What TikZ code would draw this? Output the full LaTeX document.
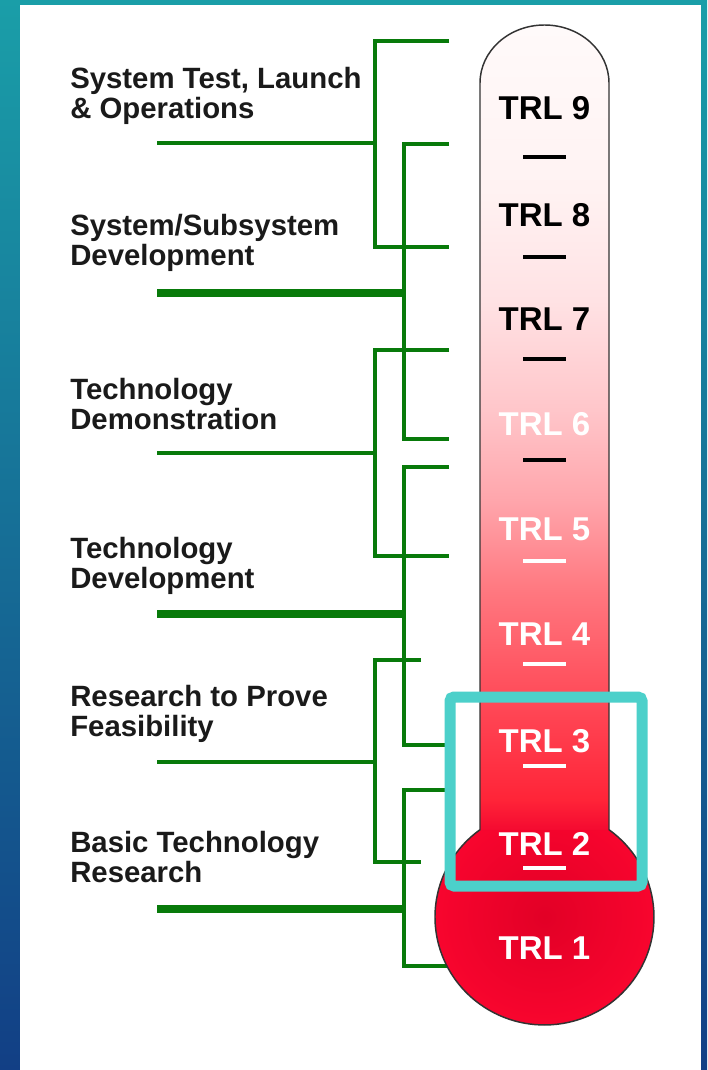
\documentclass[tikz,border=0pt]{standalone}
\usepackage{fontspec}
\setmainfont{Liberation Sans}

\definecolor{bgteal}{HTML}{1A9EA8}
\definecolor{bgnavy}{HTML}{123F85}
\definecolor{bracketgreen}{HTML}{087A0A}
\definecolor{boxteal}{HTML}{4CD0CA}
\definecolor{bulbred}{HTML}{F8052E}
\definecolor{bulbcore}{HTML}{E20026}
\definecolor{labelgray}{HTML}{1A1A1A}
\definecolor{tubeA}{HTML}{F40A30}
\definecolor{tubeB}{HTML}{FF2438}
\definecolor{tubeC}{HTML}{FF4A58}
\definecolor{tubeD}{HTML}{FF7880}
\definecolor{tubeE}{HTML}{FFA6AC}
\definecolor{tubeF}{HTML}{FFC6CA}
\definecolor{tubeG}{HTML}{FFE2E4}
\definecolor{tubeH}{HTML}{FFF2F2}
\definecolor{tubeI}{HTML}{FFFAFA}

\pgfdeclareverticalshading{tubeshade}{100bp}{color(0bp)=(tubeA); color(25bp)=(tubeA);
  color(26.9bp)=(tubeB); color(33.1bp)=(tubeC); color(39.9bp)=(tubeD);
  color(45.5bp)=(tubeE); color(51.1bp)=(tubeF); color(57.9bp)=(tubeG);
  color(64.75bp)=(tubeH); color(75bp)=(tubeI); color(100bp)=(tubeI)}

\begin{document}
\begin{tikzpicture}[x=0.75pt,y=0.75pt,
    stage node/.style={anchor=base west,inner sep=0pt,align=left,text=labelgray,font=\fontsize{22}{22.5}\selectfont\bfseries},
    trl node/.style={anchor=base,inner sep=0pt,text=black,font=\fontsize{24.75}{26}\selectfont\bfseries},
    light trl/.style={trl node,text=white},
    bracket/.style={draw=bracketgreen,line width=3.4pt},
    heavy bracket/.style={bracket,line width=5.6pt},
    tick/.style={draw=black,line width=3pt},
    light tick/.style={tick,draw=white},
    glass/.style={draw=black!80,line width=1.1pt}]
    \useasboundingbox (0,0) rectangle (707,-1070);
    % backdrop
    \shade[top color=bgteal,bottom color=bgnavy] (0,0) rectangle (707,-1070);
    \fill[white] (20,-5) rectangle (701,-1070);

    % stage labels (base = last line)
    \node[stage node] (stage1) at (70,-119) {System Test, Launch\\\& Operations};
    \node[stage node] (stage2) at (70,-265) {System/Subsystem\\Development};
    \node[stage node] (stage3) at (70,-429) {Technology\\Demonstration};
    \node[stage node] (stage4) at (70,-588) {Technology\\Development};
    \node[stage node] (stage5) at (70,-736) {Research to Prove\\Feasibility};
    \node[stage node] (stage6) at (70,-882) {Basic Technology\\Research};

    % bracket ends
    \coordinate (s1) at (157,-143); \coordinate (k1) at (375,-143);
    \coordinate (u1) at (449,-41);  \coordinate (d1) at (449,-247);
    \coordinate (s2) at (157,-293); \coordinate (k2) at (404,-293);
    \coordinate (u2) at (449,-144); \coordinate (d2) at (449,-439);
    \coordinate (s3) at (157,-453); \coordinate (k3) at (375,-453);
    \coordinate (u3) at (449,-350); \coordinate (d3) at (449,-556);
    \coordinate (s4) at (157,-614); \coordinate (k4) at (404,-614);
    \coordinate (u4) at (449,-467); \coordinate (d4) at (449,-745);
    \coordinate (s5) at (157,-762); \coordinate (k5) at (375,-762);
    \coordinate (u5) at (421,-660); \coordinate (d5) at (421,-862);
    \coordinate (s6) at (157,-909); \coordinate (k6) at (404,-909);
    \coordinate (u6) at (449,-790); \coordinate (d6) at (449,-966);

    \path[bracket]
        (u1) -| (k1) |- (d1)
        (u2) -| (k2) |- (d2)
        (u3) -| (k3) |- (d3)
        (u4) -| (k4) |- (d4)
        (u5) -| (k5) |- (d5)
        (u6) -| (k6) |- (d6)
        (s1) -- (k1)
        (s3) -- (k3)
        (s5) -- (k5);
    \path[heavy bracket]
        (s2) -- (k2)
        (s4) -- (k4)
        (s6) -- (k6);

    % thermometer
    \shade[shading=radial,inner color=bulbcore,outer color=bulbred] (544.5,-917) ellipse (109.5 and 108);
    \shade[shading=tubeshade] (480,-830) -- (480,-83) arc (180:0:64.5 and 58) -- (609,-830) -- cycle;
    \draw[glass] (480,-829.7) -- (480,-83) arc (180:0:64.5 and 58) -- (609,-829.7)
        arc (53.9:-233.9:109.5 and 108) -- cycle;

    \node[trl node] (trl9) at (544.5,-120) {TRL 9};
    \node[trl node] (trl8) at (544.5,-226) {TRL 8};
    \node[trl node] (trl7) at (544.5,-330) {TRL 7};
    \node[light trl] (trl6) at (544.5,-435) {TRL 6};
    \node[light trl] (trl5) at (544.5,-540) {TRL 5};
    \node[light trl] (trl4) at (544.5,-645) {TRL 4};
    \node[light trl] (trl3) at (544.5,-752) {TRL 3};
    \node[light trl] (trl2) at (544.5,-855) {TRL 2};
    \node[light trl] (trl1) at (544.5,-959) {TRL 1};

    \path[tick] (523,-157) -- (566,-157) (523,-257) -- (566,-257)
        (523,-359) -- (566,-359) (523,-460) -- (566,-460);
    \path[light tick] (523,-561) -- (566,-561) (523,-664) -- (566,-664)
        (523,-766) -- (566,-766) (523,-868) -- (566,-868);

    % highlight
    \draw[boxteal,line width=8.25pt,rounded corners=3pt] (450,-697) rectangle (642,-886);
\end{tikzpicture}
\end{document}
